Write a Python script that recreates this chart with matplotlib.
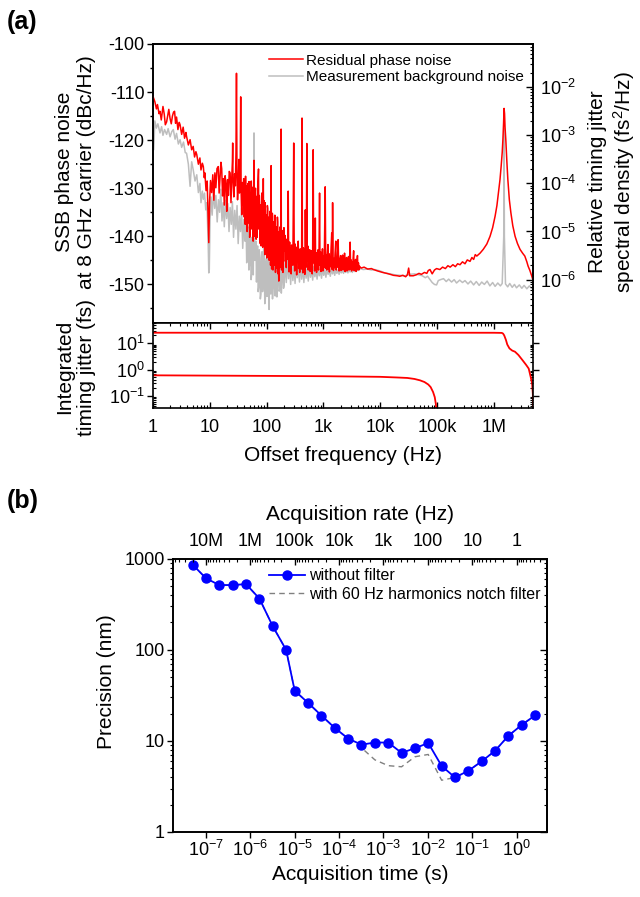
import numpy as np
import matplotlib
matplotlib.use("Agg")
import matplotlib.pyplot as plt
from matplotlib.ticker import FixedLocator, MultipleLocator, NullFormatter

RED = "#FF0000"
GRAY = "#BEBEBE"
BLUE = "#0000FF"

# ---- (a) SSB phase noise traces: (offset Hz, dBc/Hz) ----
residual_noise = [
    (1.0, -110.9), (1.08, -112.0), (1.15, -113.5), (1.2, -112.6), (1.28, -114.5), (1.33, -114.0),
    (1.4, -115.8), (1.5, -113.0), (1.58, -114.6), (1.65, -116.8), (1.74, -116.2), (1.82, -114.8),
    (1.9, -113.6), (2.0, -115.5), (2.1, -116.6), (2.2, -115.0), (2.3, -114.2), (2.4, -114.0),
    (2.5, -116.5), (2.6, -115.2), (2.75, -117.8), (2.9, -116.3), (3.0, -116.8), (3.2, -118.8),
    (3.4, -117.3), (3.6, -119.6), (3.8, -118.4), (3.9, -119.2), (4.2, -121.0), (4.5, -119.9),
    (4.8, -122.0), (5.1, -121.3), (5.4, -123.5), (5.7, -122.4), (5.9, -123.0), (6.3, -125.0),
    (6.7, -123.7), (7.0, -126.2), (7.4, -124.8), (7.7, -125.5), (8.0, -127.8), (8.2, -126.8),
    (8.6, -130.5), (9.0, -128.5), (9.3, -135.1), (9.6, -141.3), (9.9, -133.0), (10.3, -128.4),
    (10.8, -130.9), (11.3, -127.2), (11.8, -132.5), (12.3, -126.8), (12.8, -129.9), (13.4, -125.9),
    (14.1, -125.5), (14.6, -131.0), (15.2, -127.3), (15.7, -124.6), (16.2, -125.9), (16.8, -131.6),
    (17.4, -128.0), (18.0, -133.5), (18.6, -127.4), (19.3, -129.0), (19.9, -134.8), (20.6, -128.2),
    (21.3, -131.5), (22.0, -126.5), (22.8, -126.8), (23.6, -133.0), (24.4, -127.6), (25.0, -124.5),
    (25.3, -120.6), (25.6, -128.0), (26.5, -131.8), (27.4, -127.0), (28.2, -129.5), (28.9, -122.6),
    (29.5, -106.1), (30.1, -127.0), (30.8, -132.4), (31.7, -129.0), (32.5, -124.0), (33.3, -131.0),
    (34.2, -129.6), (35.0, -111.0), (35.6, -130.6), (36.5, -135.5), (37.5, -128.8), (38.5, -133.4),
    (39.5, -128.0), (40.5, -136.0), (41.0, -129.0), (41.5, -131.5), (42.0, -137.5), (42.6, -127.5),
    (43.1, -133.0), (43.7, -136.7), (44.2, -129.5), (44.8, -130.2), (45.4, -139.0), (46.0, -138.1),
    (46.6, -131.0), (47.2, -129.0), (47.8, -137.2), (48.4, -134.5), (49.0, -128.6), (49.7, -131.0),
    (50.3, -140.2), (51.0, -139.2), (51.6, -131.0), (52.3, -132.2), (53.0, -138.5), (53.7, -128.5),
    (54.4, -133.2), (55.1, -136.6), (55.8, -129.8), (56.5, -130.7), (57.2, -139.5), (58.0, -141.0),
    (58.8, -132.0), (59.5, -127.0), (60.0, -124.2), (60.6, -133.5), (61.3, -140.0), (62.1, -137.8),
    (62.9, -131.0), (63.7, -130.0), (64.5, -139.0), (65.4, -140.6), (66.2, -133.0), (67.1, -131.7),
    (68.0, -140.2), (68.9, -135.8), (69.8, -129.5), (70.7, -128.3), (72.0, -126.0), (72.7, -136.0),
    (73.5, -138.5), (74.4, -131.5), (75.3, -133.0), (76.3, -141.0), (77.3, -141.5), (78.3, -133.5),
    (79.3, -134.0), (80.3, -142.0), (81.4, -137.5), (82.4, -131.0), (83.5, -131.2), (84.6, -140.4),
    (85.7, -142.3), (86.6, -134.0), (87.5, -128.0), (88.5, -137.0), (89.5, -136.8), (90.6, -132.6),
    (91.8, -140.0), (93.0, -143.8), (94.2, -133.0), (95.4, -137.0), (96.7, -143.2), (98.0, -136.0),
    (99.2, -135.5), (100.5, -144.5), (101.8, -139.4), (103.1, -133.6), (104.5, -134.2), (105.8, -142.0),
    (107.2, -144.0), (108.6, -137.2), (110.0, -136.0), (111.4, -145.0), (112.9, -140.8), (114.3, -134.8),
    (115.8, -137.0), (117.3, -146.0), (118.8, -143.5), (120.0, -125.3), (121.2, -138.5), (122.8, -146.8),
    (124.4, -141.6), (126.0, -135.2), (127.6, -135.9), (129.3, -147.0), (131.0, -144.6), (132.7, -137.0),
    (134.4, -137.8), (136.1, -146.0), (137.9, -142.0), (139.7, -135.6), (141.5, -136.5), (143.3, -147.5),
    (145.2, -145.0), (147.1, -138.0), (149.0, -138.3), (150.9, -146.6), (152.9, -141.2), (154.9, -136.0),
    (156.9, -137.0), (159.0, -147.8), (161.0, -145.8), (164.0, -149.3), (166.7, -139.0), (169.5, -142.8),
    (171.7, -146.5), (174.0, -138.0), (176.2, -144.0), (178.5, -141.0), (180.0, -117.7), (181.5, -140.5),
    (183.8, -147.0), (186.2, -144.2), (188.6, -139.0), (191.1, -138.8), (193.6, -147.5), (196.1, -146.3),
    (199.0, -140.5), (202.0, -138.2), (206, -143.0), (210, -139.8), (214, -145.2),
    (218, -141.0), (222, -146.5), (226, -140.6), (231, -144.8), (236, -142.0), (240, -130.6),
    (244, -143.6), (249, -147.4), (254, -141.2), (259, -145.6), (265, -142.5), (270, -147.8),
    (276, -141.8), (282, -145.0), (290, -146.0), (300, -120.6), (306, -143.5), (312, -147.2),
    (318, -141.6), (325, -145.9), (331, -143.0), (338, -148.0), (345, -142.2), (352, -145.4),
    (360, -141.0), (367, -146.7), (374, -143.4), (382, -147.5), (390, -142.6), (398, -145.2),
    (406, -143.9), (413, -146.8), (420, -115.4), (427, -144.0), (435, -147.6), (444, -142.4),
    (453, -146.0), (462, -143.3), (471, -147.9), (480, -134.5), (489, -143.1), (499, -146.4),
    (510, -120.7), (520, -145.0), (530, -142.0), (541, -147.0), (552, -143.6), (563, -146.2),
    (574, -142.8), (585, -147.3), (597, -144.0), (609, -146.6), (621, -143.0), (634, -147.8),
    (646, -143.6), (660, -122.0), (673, -145.5), (686, -142.9), (700, -147.2), (714, -144.2),
    (720, -136.2), (728, -146.3), (742, -143.4), (757, -147.5), (772, -144.0), (788, -146.8),
    (804, -142.8), (820, -147.0), (836, -143.9), (855, -131.0), (870, -146.0), (888, -143.2),
    (905, -147.3), (923, -144.4), (942, -146.5), (961, -142.6), (980, -147.2), (1000, -144.1),
    (1020, -146.6), (1040, -143.3), (1074, -129.7), (1100, -146.7), (1122, -143.8), (1145, -147.0),
    (1168, -144.5), (1200, -141.7), (1225, -146.8), (1250, -143.6), (1275, -147.4), (1300, -144.3),
    (1327, -146.3), (1354, -143.4), (1400, -139.3), (1428, -146.9), (1450, -133.0), (1475, -144.2),
    (1505, -147.1), (1535, -144.6), (1566, -146.5), (1598, -143.8), (1650, -141.0), (1683, -147.0),
    (1717, -144.8), (1752, -146.4), (1811, -140.7), (1850, -145.0), (1887, -147.2), (1925, -144.6),
    (1964, -146.6), (2004, -144.0), (2044, -147.1), (2086, -145.0), (2128, -146.8), (2171, -143.9),
    (2215, -147.0), (2260, -145.2), (2306, -146.6), (2353, -143.5), (2400, -147.3), (2450, -145.1),
    (2500, -146.7), (2550, -144.4), (2602, -147.2), (2655, -145.3), (2709, -146.9), (2764, -144.2),
    (2820, -147.0), (2877, -145.6), (2950, -141.2), (3010, -146.8), (3070, -144.9), (3133, -147.2),
    (3197, -145.4), (3262, -146.8), (3328, -144.6), (3400, -143.0), (3465, -147.1), (3535, -145.7),
    (3607, -146.9), (3680, -144.8), (3755, -147.3), (3831, -145.9), (3970, -144.0), (4050, -147.0),
    (4130, -145.5), (4215, -146.9), (4300, -146.2), (4600, -146.6), (5200, -146.4), (6000, -146.8),
    (7000, -146.7), (7600, -146.9), (9000, -147.2), (1.1e4, -147.5), (1.3e4, -147.7), (1.5e4, -147.9),
    (1.7e4, -148.1), (2.0e4, -148.2), (2.2e4, -148.3), (2.5e4, -148.1), (2.8e4, -148.4), (3.0e4, -148.0),
    (3.16e4, -146.6), (3.3e4, -148.2), (3.8e4, -148.2), (4.3e4, -148.0), (4.8e4, -147.7), (5.3e4, -147.9),
    (6.0e4, -147.5), (6.6e4, -147.7), (7.0e4, -147.1), (7.5e4, -146.9), (8.2e4, -147.8), (9.0e4, -147.0),
    (9.8e4, -146.7), (1.12e5, -146.9), (1.25e5, -146.4), (1.4e5, -146.7), (1.55e5, -146.1),
    (1.7e5, -146.4), (1.9e5, -145.9), (2.1e5, -146.3), (2.3e5, -145.7), (2.53e5, -145.9),
    (2.8e5, -145.3), (3.1e5, -145.7), (3.4e5, -144.9), (3.8e5, -145.2), (4.1e5, -144.4),
    (4.4e5, -144.8), (4.7e5, -143.8), (5.0e5, -144.1), (5.7e5, -143.5), (6.5e5, -142.7),
    (7.5e5, -141.6), (8.55e5, -140.0), (9.5e5, -138.2), (1.05e6, -135.8), (1.13e6, -133.6),
    (1.2e6, -131.0), (1.28e6, -128.2), (1.34e6, -125.5), (1.40e6, -122.6), (1.44e6, -119.9),
    (1.48e6, -116.5), (1.51e6, -113.4), (1.54e6, -114.5), (1.57e6, -117.3), (1.62e6, -119.9),
    (1.69e6, -124.4), (1.76e6, -128.2), (1.87e6, -132.4), (1.99e6, -135.1), (2.15e6, -137.8),
    (2.36e6, -140.0), (2.6e6, -141.5), (2.88e6, -142.7), (3.2e6, -143.5), (3.5e6, -144.1),
    (3.8e6, -145.3), (4.0e6, -146.2), (4.3e6, -147.1), (4.65e6, -148.3), (4.9e6, -149.2),
]

background_noise = [
    (1.0, -113.5), (1.03, -122.0), (1.08, -116.0), (1.15, -117.5), (1.22, -116.6), (1.33, -118.5),
    (1.42, -117.2), (1.5, -119.0), (1.6, -117.8), (1.74, -118.8), (1.85, -117.6), (2.0, -119.3),
    (2.15, -118.2), (2.28, -117.8), (2.45, -119.8), (2.6, -118.6), (2.8, -120.8), (3.0, -119.9),
    (3.2, -121.5), (3.45, -120.4), (3.7, -122.6), (3.9, -122.7), (4.2, -125.0), (4.5, -129.6),
    (4.8, -124.5), (5.1, -126.1), (5.5, -128.5), (5.9, -127.2), (6.3, -130.9), (6.7, -129.0),
    (7.0, -133.0), (7.4, -130.6), (7.7, -132.3), (8.1, -131.0), (8.5, -134.5), (8.9, -133.0),
    (9.4, -142.0), (9.6, -147.6), (9.8, -146.9), (10.1, -136.5), (10.5, -131.8), (11.0, -135.6),
    (11.6, -130.8), (12.2, -134.2), (12.8, -131.5), (13.5, -137.0), (14.2, -132.4), (14.9, -135.0),
    (15.6, -130.2), (16.4, -136.8), (17.2, -133.0), (18.0, -138.0), (18.9, -132.5), (19.8, -136.3),
    (20.8, -133.2), (21.8, -139.0), (22.8, -134.0), (23.9, -137.5), (25.0, -132.8), (26.2, -140.2),
    (27.5, -134.6), (28.8, -138.5), (30.2, -133.6), (31.6, -141.5), (33.1, -135.8), (34.7, -139.0),
    (36.3, -134.2), (38.0, -142.5), (39.8, -136.5), (40.8, -138.5), (41.7, -141.0), (42.6, -136.2),
    (43.6, -137.6), (44.6, -145.5), (45.6, -144.3), (46.6, -138.0), (47.7, -139.2), (48.8, -147.0),
    (49.9, -146.0), (51.0, -139.5), (52.2, -140.4), (53.4, -149.0), (54.6, -147.8), (55.8, -140.2),
    (57.1, -141.5), (58.3, -148.0), (59.5, -135.0), (60.0, -118.5), (60.6, -136.0), (62.0, -145.0),
    (63.5, -143.8), (65.0, -141.0), (66.4, -149.5), (67.9, -143.5), (69.4, -142.0), (71.0, -151.5),
    (72.6, -150.6), (74.2, -142.8), (75.9, -144.0), (77.6, -153.0), (79.4, -152.0), (81.2, -144.5),
    (83.0, -143.2), (84.9, -151.5), (86.8, -150.0), (88.8, -142.5), (90.8, -145.0), (92.9, -154.0),
    (95.0, -153.0), (97.1, -145.5), (99.3, -144.6), (101.5, -152.5), (103.8, -151.2), (106.2, -144.0),
    (108.6, -146.0), (110.5, -155.2), (113.5, -145.5), (116.1, -149.0), (118.7, -152.0), (121.4, -144.5),
    (124.1, -146.2), (127.0, -153.0), (129.8, -150.8), (132.7, -144.0), (135.7, -145.0), (138.8, -151.0),
    (141.9, -152.4), (145.1, -145.4), (148.4, -146.6), (151.8, -152.6), (155.2, -150.0), (158.7, -144.6),
    (162.3, -145.2), (166.0, -151.4), (169.7, -151.0), (173.6, -145.0), (177.5, -146.8), (181.5, -151.8),
    (185.6, -149.5), (189.8, -144.2), (194.1, -145.6), (198.5, -150.8), (203, -150.2),
    (212, -145.0), (222, -149.6), (232, -144.6), (243, -148.8), (254, -145.8), (265, -150.0),
    (277, -145.2), (290, -149.2), (303, -146.0), (317, -149.8), (331, -145.4), (346, -148.6),
    (362, -146.2), (379, -149.5), (396, -145.6), (414, -148.9), (433, -146.4), (453, -149.6),
    (473, -145.9), (495, -148.7), (518, -146.6), (541, -149.3), (566, -146.0), (592, -148.5),
    (619, -146.7), (647, -149.1), (677, -146.3), (707, -148.4), (740, -146.9), (774, -148.9),
    (809, -146.4), (846, -148.2), (884, -146.8), (925, -148.7), (967, -146.5), (1011, -148.1),
    (1057, -146.9), (1105, -148.5), (1156, -146.6), (1208, -147.9), (1263, -146.9), (1321, -148.3),
    (1381, -146.7), (1444, -147.8), (1510, -147.0), (1579, -148.1), (1651, -146.8), (1726, -147.7),
    (1805, -147.0), (1887, -147.9), (1973, -146.9), (2063, -147.6), (2157, -147.0), (2255, -147.7),
    (2358, -146.9), (2466, -147.5), (2578, -147.0), (2696, -147.6), (2818, -146.9), (2947, -147.4),
    (3081, -147.0), (3222, -147.5), (3368, -146.9), (3522, -147.3), (3683, -146.8), (3850, -147.2),
    (4026, -146.8), (4209, -147.1), (4401, -146.7), (5000, -146.9), (6000, -146.8), (7000, -147.0),
    (8000, -146.9), (1e4, -147.2), (1.2e4, -147.6), (1.5e4, -147.8), (1.8e4, -148.0), (2.2e4, -148.1),
    (2.7e4, -148.2), (3.3e4, -147.9), (4e4, -147.8), (4.8e4, -148.0), (5.5e4, -148.2), (6.2e4, -148.6),
    (6.8e4, -148.3), (7.5e4, -149.0), (8.2e4, -149.6), (9.0e4, -150.0), (9.8e4, -150.1), (1.05e5, -149.2),
    (1.15e5, -149.0), (1.3e5, -148.8), (1.45e5, -149.4), (1.6e5, -148.9), (1.8e5, -149.5), (2.0e5, -149.0),
    (2.2e5, -149.7), (2.5e5, -149.1), (2.8e5, -149.6), (3.1e5, -149.2), (3.5e5, -149.9), (3.9e5, -149.3),
    (4.4e5, -150.1), (4.9e5, -149.4), (5.5e5, -150.2), (6.1e5, -149.5), (6.8e5, -150.0), (7.6e5, -149.3),
    (8.5e5, -150.3), (9.5e5, -149.6), (1.05e6, -150.4), (1.17e6, -149.7), (1.3e6, -150.3), (1.4e6, -149.8),
    (1.49e6, -140.0), (1.51e6, -117.5), (1.53e6, -140.0), (1.6e6, -149.9), (1.75e6, -150.5),
    (1.9e6, -149.8), (2.1e6, -150.6), (2.3e6, -150.0), (2.5e6, -150.7), (2.8e6, -150.1),
    (3.1e6, -150.8), (3.4e6, -150.2), (3.8e6, -150.9), (4.2e6, -150.3), (4.6e6, -150.8), (4.9e6, -150.5),
]

# integrated timing jitter (fs)
jit_hi_freq = [1, 10, 100, 1e3, 1e4, 1e5, 1e6, 1.38e6, 1.45e6, 1.52e6, 1.58e6, 1.63e6, 1.72e6,
               1.88e6, 2.1e6, 2.35e6, 2.7e6, 3.2e6, 3.7e6, 4.1e6, 4.45e6, 4.7e6, 4.84e6, 4.9e6]
jit_hi_fs = [25.4, 25.4, 25.4, 25.4, 25.4, 25.4, 25.3, 25.0, 23.5, 20.0, 16.0, 13.4, 9.0,
             6.4, 5.3, 4.8, 3.6, 2.26, 1.5, 1.09, 0.51, 0.3, 0.12, 0.03]
jit_lo_freq = [1, 10, 100, 1e3, 1e4, 2e4, 3e4, 4e4, 5e4, 6e4, 7e4, 7.7e4, 8.5e4, 9.1e4, 9.5e4, 9.7e4]
jit_lo_fs = [0.605, 0.59, 0.575, 0.56, 0.53, 0.5, 0.48, 0.44, 0.39, 0.336, 0.27, 0.216, 0.14,
             0.089, 0.05, 0.03]

freq_ticks = [1, 10, 100, 1e3, 1e4, 1e5, 1e6]
freq_labels = ["1", "10", "100", "1k", "10k", "100k", "1M"]

# ---- (b) precision vs acquisition time ----
acq_time = [5e-8, 1e-7, 2e-7, 4e-7, 8e-7, 1.6e-6, 3.2e-6, 6.4e-6, 1e-5, 2e-5, 4e-5, 8e-5,
            1.6e-4, 3.2e-4, 6.4e-4, 1.28e-3, 2.56e-3, 5.12e-3, 1.02e-2, 2.05e-2, 4.1e-2, 8.2e-2,
            0.164, 0.328, 0.655, 1.31, 2.62]
prec_raw = [865, 611, 515, 515, 528, 366, 182, 100, 35.6, 26.2, 19.0, 13.9,
            10.6, 9.1, 9.6, 9.6, 7.4, 8.3, 9.5, 5.3, 3.97, 4.7,
            5.97, 7.8, 11.4, 15.0, 19.1]
prec_notch = [865, 611, 515, 515, 528, 366, 182, 100, 35.6, 26.2, 19.0, 13.9,
              10.6, 8.4, 6.2, 5.35, 5.2, 6.7, 7.1, 3.7, 3.97, 4.7,
              5.97, 7.8, 11.4, 15.0, 19.1]
rate_ticks = [1e7, 1e6, 1e5, 1e4, 1e3, 1e2, 10, 1]
rate_labels = ["10M", "1M", "100k", "10k", "1k", "100", "10", "1"]


def dbc_to_fs2(db):
    # 8 GHz carrier, two-sided conversion to timing jitter PSD in fs^2/Hz
    return 2 * 10 ** (np.asarray(db) / 10) / (2 * np.pi * 8e9) ** 2 * 1e30


plt.rcParams.update({
    "font.family": ["Liberation Sans", "DejaVu Sans"],
    "mathtext.fontset": "custom",
    "mathtext.rm": "Liberation Sans",
    "mathtext.it": "Liberation Sans:italic",
    "mathtext.default": "regular",
    "axes.unicode_minus": False,
    "axes.linewidth": 1.2,
})

TICK_FS = 13
LABEL_FS = 15

fig = plt.figure(figsize=(6.4, 8.97), dpi=100)

# ---------- panel (a), top ----------
ax1 = fig.add_axes([0.239, 0.640, 0.594, 0.311])
rf, rdb = zip(*residual_noise)
bf, bdb = zip(*background_noise)
ax1.plot(bf, bdb, color=GRAY, lw=1.1, zorder=2, label="Measurement background noise")
ax1.plot(rf, rdb, color=RED, lw=1.1, zorder=3, label="Residual phase noise")
ax1.set_xscale("log")
ax1.set_xlim(1, 4.9e6)
ax1.set_ylim(-158, -100)
ax1.yaxis.set_major_locator(FixedLocator([-100, -110, -120, -130, -140, -150]))
ax1.yaxis.set_minor_locator(MultipleLocator(5))
ax1.tick_params(axis="y", which="major", direction="out", length=4, width=1, labelsize=TICK_FS, pad=2)
ax1.tick_params(axis="y", which="minor", direction="out", length=2.5, width=1)
ax1.tick_params(axis="x", which="both", length=0, labelbottom=False)
ax1.set_ylabel("SSB phase noise\nat 8 GHz carrier (dBc/Hz)", fontsize=LABEL_FS)
ax1.yaxis.set_label_coords(-0.15, 0.54)

handles, labels = ax1.get_legend_handles_labels()
ax1.legend(handles[::-1], labels[::-1], loc="upper left", bbox_to_anchor=(0.305, 0.965),
           frameon=False, fontsize=11, handlelength=2.2, handletextpad=0.25,
           labelspacing=0.15, borderpad=0, borderaxespad=0)

ax1r = ax1.twinx()
ax1r.set_yscale("log")
lo, hi = ax1.get_ylim()
ax1r.set_ylim(dbc_to_fs2(lo), dbc_to_fs2(hi))
ax1r.yaxis.set_major_locator(FixedLocator([1e-6, 1e-5, 1e-4, 1e-3, 1e-2]))
ax1r.tick_params(axis="y", which="major", direction="in", length=5, width=1, labelsize=TICK_FS, pad=5)
ax1r.tick_params(axis="y", which="minor", direction="in", length=2.5, width=0.8)
ax1r.set_ylabel("Relative timing jitter\nspectral density (fs$^{2}$/Hz)", fontsize=LABEL_FS)
ax1r.yaxis.set_label_coords(1.145, 0.505)

# ---------- panel (a), bottom ----------
ax2 = fig.add_axes([0.239, 0.545, 0.594, 0.095])
ax2.plot(jit_hi_freq, jit_hi_fs, color=RED, lw=1.3)
ax2.plot(jit_lo_freq, jit_lo_fs, color=RED, lw=1.3)
ax2.set_xscale("log")
ax2.set_yscale("log")
ax2.set_xlim(1, 4.9e6)
ax2.set_ylim(0.034, 60)
ax2.xaxis.set_major_locator(FixedLocator(freq_ticks))
ax2.set_xticklabels(freq_labels)
ax2.yaxis.set_major_locator(FixedLocator([0.1, 1, 10]))
ax2.yaxis.set_minor_formatter(NullFormatter())
ax2.tick_params(axis="x", which="major", direction="in", length=4, width=1, top=True,
                labelsize=TICK_FS, pad=8)
ax2.tick_params(axis="x", which="minor", direction="in", length=2.5, width=0.8, top=True)
ax2.tick_params(axis="y", which="major", direction="out", length=4, width=1, labelsize=TICK_FS,
                pad=2, right=True)
ax2.tick_params(axis="y", which="minor", direction="in", length=2, width=0.8, right=True)
ax2.set_xlabel("Offset frequency (Hz)", fontsize=LABEL_FS)
ax2.xaxis.set_label_coords(0.5, -0.45)
ax2.set_ylabel("Integrated\ntiming jitter (fs)", fontsize=LABEL_FS)
ax2.yaxis.set_label_coords(-0.15, 0.48)

# ---------- panel (b) ----------
ax3 = fig.add_axes([0.271, 0.0725, 0.584, 0.3045])
ax3.plot(acq_time, prec_notch, color="#808080", lw=1.0, ls=(0, (4, 3)), zorder=2,
         label="with 60 Hz harmonics notch filter")
ax3.plot(acq_time, prec_raw, color=BLUE, lw=1.3, marker="o", ms=6.5, zorder=3,
         label="without filter")
ax3.set_xscale("log")
ax3.set_yscale("log")
ax3.set_xlim(1.85e-8, 4.9)
ax3.set_ylim(1, 1000)
ax3.yaxis.set_major_locator(FixedLocator([1, 10, 100, 1000]))
ax3.set_yticklabels(["1", "10", "100", "1000"])
ax3.yaxis.set_minor_formatter(NullFormatter())
ax3.xaxis.set_major_locator(FixedLocator([1e-7, 1e-6, 1e-5, 1e-4, 1e-3, 1e-2, 1e-1, 1]))
ax3.tick_params(axis="both", which="major", direction="out", length=4, width=1,
                labelsize=TICK_FS, pad=2)
ax3.tick_params(axis="both", which="minor", direction="out", length=2.5, width=0.8)
ax3r = ax3.secondary_yaxis("right")
ax3r.set_yscale("log")
ax3r.tick_params(axis="y", which="major", direction="in", length=5, width=1, labelright=False)
ax3r.tick_params(axis="y", which="minor", direction="in", length=2.5, width=0.8)

ax3.set_xlabel("Acquisition time (s)", fontsize=LABEL_FS)
ax3.xaxis.set_label_coords(0.5, -0.12)
ax3.set_ylabel("Precision (nm)", fontsize=LABEL_FS)
ax3.yaxis.set_label_coords(-0.155, 0.55)

handles, labels = ax3.get_legend_handles_labels()
ax3.legend(handles[::-1], labels[::-1], loc="upper left", bbox_to_anchor=(0.255, 0.965),
           frameon=False, fontsize=11.5, handlelength=2.3, handletextpad=0.25,
           labelspacing=0.2, borderpad=0, borderaxespad=0)

# top axis: acquisition rate = 1 / acquisition time
axt = ax3.twiny()
axt.set_xscale("log")
axt.set_xlim(ax3.get_xlim())
axt.xaxis.set_major_locator(FixedLocator([1.0 / r for r in rate_ticks]))
axt.set_xticklabels(rate_labels)
minor_rates = [m * 10.0 ** n for n in range(-1, 9) for m in range(2, 10)]
axt.xaxis.set_minor_locator(FixedLocator([1.0 / r for r in minor_rates]))
axt.xaxis.set_minor_formatter(NullFormatter())
axt.tick_params(axis="x", which="major", direction="in", length=4, width=1,
                labelsize=TICK_FS, pad=6)
axt.tick_params(axis="x", which="minor", direction="in", length=2.5, width=0.8)
axt.set_xlabel("Acquisition rate (Hz)", fontsize=LABEL_FS, labelpad=10)

fig.text(0.011, 0.989, "(a)", fontsize=18, fontweight="bold", va="top", ha="left")
fig.text(0.011, 0.455, "(b)", fontsize=18, fontweight="bold", va="top", ha="left")

fig.savefig("out.png", dpi=100)
